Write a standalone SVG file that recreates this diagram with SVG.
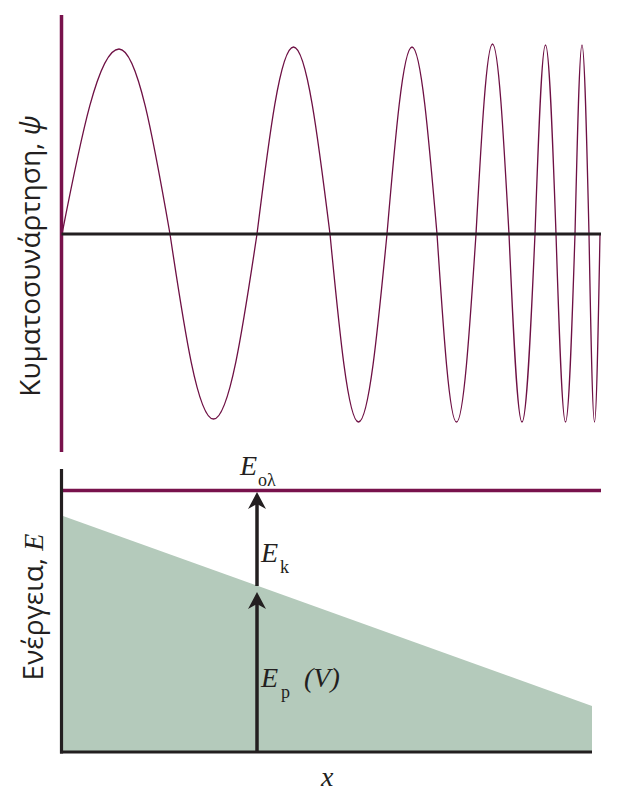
<svg xmlns="http://www.w3.org/2000/svg" width="622" height="803" viewBox="0 0 622 803">
<style>
.ax{stroke:#231f20;stroke-width:3.2;fill:none}
.pax{stroke:#78124c;stroke-width:3.5;fill:none}
.wave{stroke:#6e1044;stroke-width:1.3;fill:none}
.lbl{font-family:"Open Sans","DejaVu Sans",sans-serif;font-size:28px;fill:#231f20}
.math{font-family:"Liberation Serif","Times New Roman",serif;font-style:italic;font-size:28px;fill:#231f20}
.sub{font-family:"Liberation Serif","Times New Roman",serif;font-style:normal;font-size:18px;fill:#231f20}
.arr{stroke:#231f20;stroke-width:3.5;fill:none}
.head{fill:#231f20}
</style>
<rect width="622" height="803" fill="#ffffff"/>
<g id="wavefunction-panel">
<path id="psi-wave" class="wave" d="M62,234 C80.6,139.2 98.4,49 119,49 C137.5,49 153.4,139.2 170,234 C184.2,328.8 197.8,419 213.5,419 C229.2,419 242.8,328.8 257,234 C268.9,138.2 280.3,47 293.5,47 C306.7,47 318.1,138.2 330,234 C339.3,330.3 348.2,422 358.5,422 C368.8,422 377.7,330.3 387,234 C395.2,138.2 403,47 412,47 C421,47 428.8,138.2 437,234 C443.4,330.3 449.4,422 456.5,422 C463.6,422 469.6,330.3 476,234 C481.4,136.7 486.5,44 492.5,44 C498.5,44 503.6,136.7 509,234 C513.2,330.3 517.3,422 522,422 C526.7,422 530.8,330.3 535,234 C538.4,137.2 541.7,45 545.5,45 C549.3,45 552.6,137.2 556,234 C559.1,330.3 562.1,422 565.5,422 C568.9,422 571.9,330.3 575,234 C577.3,137.2 579.5,45 582,45 C584.5,45 586.7,137.2 589,234 C590.8,330.3 592.5,422 594.5,422 C596.5,422 598.2,330.3 600,234"/>
<line id="psi-axis-y" class="pax" x1="61.5" y1="15" x2="61.5" y2="452"/>
<line id="psi-axis-x" class="ax" x1="61.5" y1="234" x2="601" y2="234"/>
<text id="psi-label" class="lbl" transform="translate(39.5,256) rotate(-90)" text-anchor="middle">Κυματοσυνάρτηση, <tspan font-style="italic">ψ</tspan></text>
</g>
<g id="energy-panel">
<polygon id="potential-area" points="63,516 592,706 592,752 63,752" fill="#b4cabb"/>
<line id="total-energy" class="pax" x1="62" y1="490.5" x2="601" y2="490.5"/>
<line id="energy-axis-y" class="ax" x1="61.5" y1="469" x2="61.5" y2="753.6"/>
<line id="energy-axis-x" class="ax" x1="60" y1="752" x2="592" y2="752"/>
<text id="energy-label" class="lbl" transform="translate(43,607) rotate(-90)" text-anchor="middle">Ενέργεια, <tspan class="math" font-size="28">E</tspan></text>
<text id="x-label" class="math" x="321" y="786" font-size="30">x</text>
</g>
<g id="connectors">
<line id="ep-arrow" class="arr" x1="257" y1="752" x2="257" y2="603"/>
<path class="head" d="M257,592 L266,609 L257,604 L248,609 Z"/>
<line id="ek-arrow" class="arr" x1="257" y1="586" x2="257" y2="503"/>
<path class="head" d="M257,492 L266,509 L257,504 L248,509 Z"/>
</g>
<g id="labels">
<text id="e-total" class="math" x="240" y="475">E<tspan class="sub" x="258" y="486">ολ</tspan></text>
<text id="e-kinetic" class="math" x="261" y="562">E<tspan class="sub" x="280" y="573">k</tspan></text>
<text id="e-potential" class="math" x="261" y="687">E<tspan class="sub" x="281" y="698">p</tspan><tspan x="304" y="687">(V)</tspan></text>
</g>
</svg>
